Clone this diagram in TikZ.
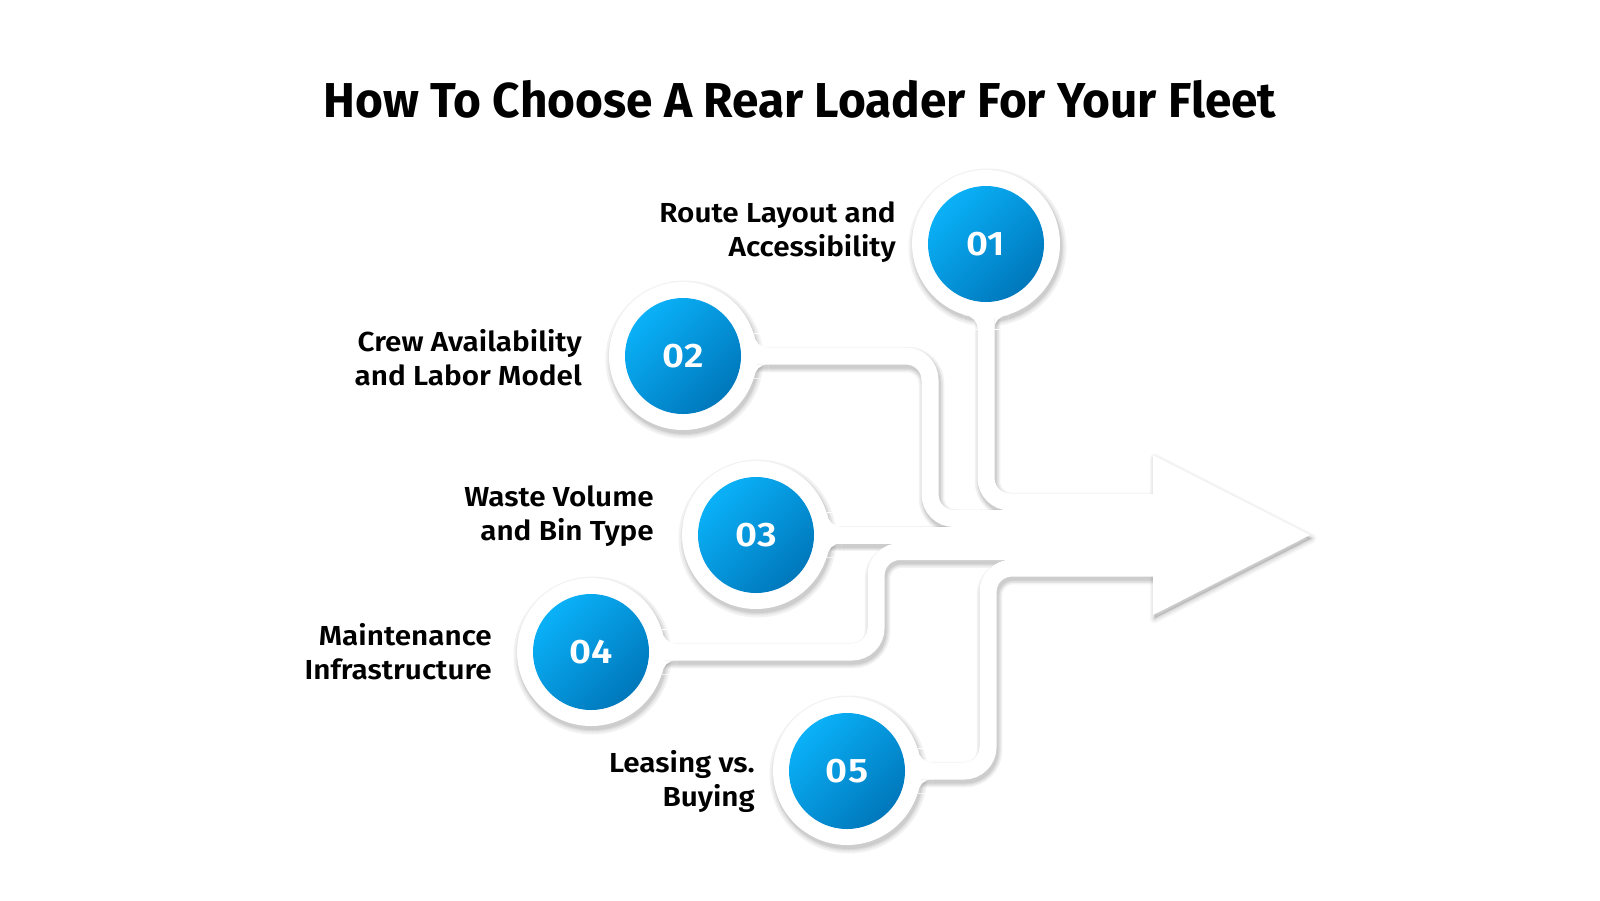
\documentclass[tikz,border=0pt]{standalone}
\usepackage{graphicx}
\usepackage{fontspec}
\setmainfont{Fira Sans}
\newfontfamily\labfont[FakeStretch=1.08]{Fira Sans SemiBold}
\newfontfamily\numfont[FakeStretch=1.12]{Fira Sans SemiBold}
\newfontfamily\ttlfont{Fira Sans Bold}
\definecolor{blueL}{HTML}{0AB1F8}
\definecolor{blueD}{HTML}{0077BB}
\tikzset{
  band/.style={draw=white, line width=17pt, rounded corners=24pt},
  bandshadow/.style={draw=black, line width=#1, rounded corners=24pt, opacity=0.05},
  numcircle/.style={circle, minimum size=116pt, inner sep=0pt, shading=axis,
     top color=blueL, bottom color=blueD, shading angle=45, text=white,
     font=\numfont\fontsize{34}{34}\selectfont},
  lab/.style={anchor=north east, inner sep=0pt, align=right,
     font=\labfont\fontsize{27.5}{34}\selectfont, text=black}
}
% smooth joins between a ring and the band leaving it (band along local +x)
\newcommand\filletpair{%
  \foreach \s in {1,-1}{%
    \begin{scope}
      \clip (60,\s*8.25) rectangle (85.1,\s*22.25);
      \fill[white,even odd rule] (60,\s*8.25) rectangle (85.1,\s*22.25)
            (85.1,\s*22.25) circle[radius=14];
    \end{scope}}}
\begin{document}
\begin{tikzpicture}[x=1pt,y=-1pt]
\fill[white] (0,0) rectangle (1600,900);
\useasboundingbox (0,0) rectangle (1600,900);
% named points
\coordinate (p1) at (986,244);
\coordinate (p2) at (683,356);
\coordinate (p3) at (756,535);
\coordinate (p4) at (591,652);
\coordinate (p5) at (847,771);
\coordinate (e1) at (1160,502);
\coordinate (e2) at (1160,518.5);
\coordinate (e3) at (1160,535);
\coordinate (e4) at (1160,551.5);
\coordinate (e5) at (1160,568);
\coordinate (b2) at (930,0);
\coordinate (b4) at (876,0);
\coordinate (b5) at (988,0);
\coordinate (a1) at (1153,455);
\coordinate (a2) at (1310,535);
\coordinate (a3) at (1153,615);
\def\bandone{(p1) |- (e1)}
\def\bandtwo{(p2) -| (b2 |- e2) -- (e2)}
\def\bandthree{(p3) -- (e3)}
\def\bandfour{(p4) -| (b4 |- e4) -- (e4)}
\def\bandfive{(p5) -| (b5 |- e5) -- (e5)}
% shadows
\begin{scope}[transform canvas={shift={(1.5pt,-3.5pt)}}]
  \foreach \w in {25.5pt,22.5pt,20pt,18pt}{
    \draw[bandshadow=\w] \bandone;
    \draw[bandshadow=\w] \bandtwo;
    \draw[bandshadow=\w] \bandthree;
    \draw[bandshadow=\w] \bandfour;
    \draw[bandshadow=\w] \bandfive;
    \draw[black, opacity=0.035, line width=\w-16pt, line join=round, fill=black] (a1) -- (a2) -- (a3) -- cycle;
  }
  \foreach \p in {p1,p2,p3,p4,p5}{
    \foreach \r in {79pt,77pt,75.5pt,74.5pt}{
      \fill[black, opacity=0.05] (\p) circle[radius=\r];
    }
  }
\end{scope}
% white shapes
\draw[band] \bandone;
\draw[band] \bandtwo;
\draw[band] \bandthree;
\draw[band] \bandfour;
\draw[band] \bandfive;
\fill[white] (a1) -- (a2) -- (a3) -- cycle;
\foreach \p in {p1,p2,p3,p4,p5}{
  \fill[white] (\p) circle[radius=74pt];
}
% fillets where the bands leave the rings
\begin{scope}[shift={(p1)}, rotate=-90]\filletpair\end{scope}
\foreach \p in {p2,p3,p4,p5}{
  \begin{scope}[shift={(\p)}]\filletpair\end{scope}
}
% blue circles
\node[numcircle] (c1) at (p1) {01};
\node[numcircle] (c2) at (p2) {02};
\node[numcircle] (c3) at (p3) {03};
\node[numcircle] (c4) at (p4) {04};
\node[numcircle] (c5) at (p5) {05};
% labels
\node[lab] (l1) at (896,201) {Route Layout and\\Accessibility};
\node[lab] (l2) at (582,329) {Crew Availability\\and Labor Model};
\node[lab] (l3) at (654,485) {Waste Volume\\and Bin Type};
\node[lab] (l4) at (492,623) {Maintenance\\Infrastructure};
\node[lab] (l5) at (755,750) {Leasing vs.\\Buying};
% title
\node[anchor=base, inner sep=0pt, font=\ttlfont\fontsize{49}{49}\selectfont] (title) at (800,117)
  {\scalebox{0.975}[1]{How To Choose A Rear Loader For Your Fleet}};
\end{tikzpicture}
\end{document}
